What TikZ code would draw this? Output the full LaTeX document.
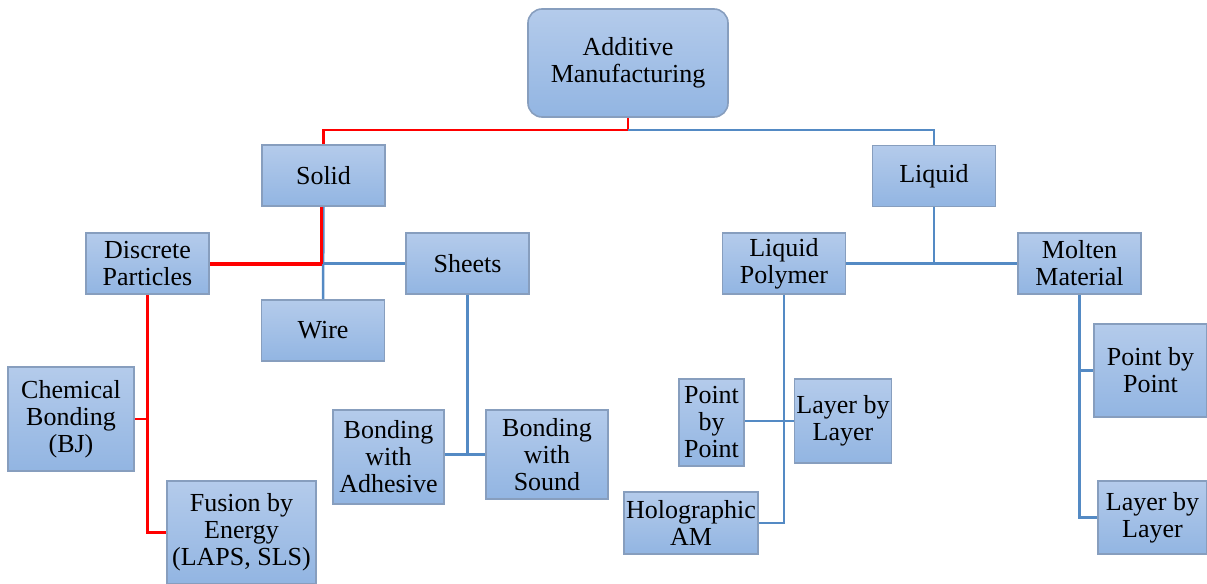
\documentclass[tikz,border=0pt]{standalone}
\usepackage{fontspec}
\setmainfont{Liberation Serif}
\usepackage{xcolor}
\definecolor{boxtop}{RGB}{180,203,235}
\definecolor{boxbot}{RGB}{146,181,226}
\definecolor{boxedge}{RGB}{135,158,190}
\definecolor{linkblue}{RGB}{84,138,196}
\definecolor{linkred}{RGB}{255,0,0}
\begin{document}
\begin{tikzpicture}[
  x=0.5pt, y=-0.5pt,
  every node/.style={font=\rmfamily\fontsize{13}{13.5}\selectfont},
  cat/.style={draw=boxedge, line width=0.8pt, top color=boxtop, bottom color=boxbot,
              align=center, inner sep=1pt, minimum width=61.5pt, minimum height=30.5pt},
  root/.style={cat, rounded corners=7pt, minimum width=100pt, minimum height=54pt},
  blueline/.style={draw=linkblue, line width=1.25pt},
  redline/.style={draw=linkred, line width=1.25pt},
  redthick/.style={draw=linkred, line width=2pt},
]
\useasboundingbox (0,0) rectangle (1207,584);
% Root
\node[root] (am) at (628,63) {Additive\\Manufacturing};
% States
\node[cat] (solid) at (323.5,175.5) {Solid};
\node[cat] (liquid) at (934,176) {Liquid};
% Solid branch
\node[cat] (discrete) at (147.5,263.5) {Discrete\\Particles};
\node[cat] (sheets) at (467.5,263.5) {Sheets};
\node[cat] (wire) at (323,330.5) {Wire};
\node[cat, minimum width=63pt, minimum height=52pt] (chem) at (71,419)
  {Chemical\\Bonding\\(BJ)};
\node[cat, minimum width=74.5pt, minimum height=51.5pt] (fusion) at (241.5,532.5)
  {Fusion by\\Energy\\(LAPS, SLS)};
\node[cat, minimum width=55.5pt, minimum height=47pt] (adhesive) at (388.5,457)
  {Bonding\\with\\Adhesive};
\node[cat, minimum width=61pt, minimum height=44.5pt] (sound) at (547,454.5)
  {Bonding\\with\\Sound};
% Liquid branch
\node[cat] (polymer) at (784,263.5) {Liquid\\Polymer};
\node[cat] (molten) at (1079.5,263.5) {Molten\\Material};
\node[cat, minimum width=32.5pt, minimum height=43.5pt] (pointL) at (711.5,422.5)
  {Point\\by\\Point};
\node[cat, minimum width=45pt, minimum height=42pt] (layerL) at (843,421)
  {Layer by\\Layer};
\node[cat, minimum width=63pt, minimum height=31pt] (holo) at (691,523)
  {Holographic\\AM};
\node[cat, minimum width=56.5pt, minimum height=46.5pt] (pointR) at (1150.5,370.5)
  {Point by\\Point};
\node[cat, minimum width=54.5pt, minimum height=36.5pt] (layerR) at (1152.5,517.5)
  {Layer by\\Layer};

% Root links
\draw[redline] (am.south) -- ++(0,12) -| (solid.north);
\draw[blueline] (am.south) ++(0,12) -| (liquid.north);
% Solid links
\draw[blueline] (solid.south) -- (wire.north);
\draw[blueline] (solid.south |- sheets.west) -- (sheets.west);
\draw[redline] ([xshift=-1pt]solid.south) -- ([xshift=-1pt]solid.south |- discrete.east);
\draw[redthick] ([xshift=-1pt]solid.south |- discrete.east) -- (discrete.east);
\draw[redline] (discrete.south) |- (fusion.west);
\draw[redline] (discrete.south |- chem.east) -- (chem.east);
\draw[blueline] (sheets.south) -- (sheets.south |- sound.west);
\draw[blueline] (adhesive.east |- sound.west) -- (sound.west);
% Liquid links
\draw[blueline] (liquid.south) -- (liquid.south |- polymer.east);
\draw[blueline] (polymer.east) -- (molten.west);
\draw[blueline] (polymer.south) |- (holo.east);
\draw[blueline] (pointL.east |- layerL.west) -- (layerL.west);
\draw[blueline] (molten.south) |- (layerR.west);
\draw[blueline] (molten.south |- pointR.west) -- (pointR.west);
\end{tikzpicture}
\end{document}
